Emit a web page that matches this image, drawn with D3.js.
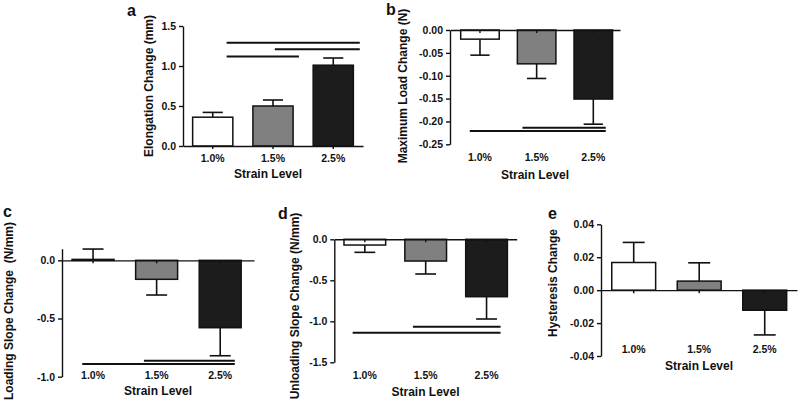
<!DOCTYPE html>
<html><head><meta charset="utf-8">
<script src="https://cdn.jsdelivr.net/npm/d3@7"></script>
<style>
body{margin:0;background:#fff;}
svg{display:block;}
text{font-family:"Liberation Sans",Arial,sans-serif;font-weight:bold;fill:#111;}
</style></head><body>
<svg id="c" width="800" height="404"></svg>
<script>
const categories = ["1.0%", "1.5%", "2.5%"];
const barColors = ["#ffffff", "#808080", "#1c1c1c"];

// panel a: Elongation Change (mm)
const elongMean = [0.36, 0.50, 1.01];
const elongErr  = [0.06, 0.075, 0.09];
const elongTicks = [0, 0.5, 1.0, 1.5];
const elongSig = [[0.23, 2.44, 1.29], [1.03, 2.44, 1.21], [0.23, 1.43, 1.12]];

// panel b: Maximum Load Change (N)
const loadMean = [-0.020, -0.074, -0.151];
const loadErr  = [0.035, 0.032, 0.055];
const loadTicks = [0, -0.05, -0.10, -0.15, -0.20, -0.25];
const loadSig = [[0.75, 2.22, -0.214], [-0.18, 2.22, -0.221]];

// panel c: Loading Slope Change (N/mm)
const lsMean = [0.008, -0.163, -0.579];
const lsErr  = [0.089, 0.135, 0.241];
const lsTicks = [0, -0.5, -1.0];
const lsSig = [[0.80, 2.23, -0.863], [-0.17, 2.23, -0.89]];

// panel d: Unloading Slope Change (N/mm)
const usMean = [-0.07, -0.265, -0.70];
const usErr  = [0.089, 0.158, 0.272];
const usTicks = [0, -0.5, -1.0, -1.5];
const usSig = [[0.79, 2.23, -1.066], [-0.20, 2.23, -1.139]];

// panel e: Hysteresis Change
const hyMean = [0.0168, 0.0055, -0.0122];
const hyErr  = [0.0122, 0.0111, 0.0150];
const hyTicks = [-0.04, -0.02, 0, 0.02, 0.04];
const hySig = [];

const svg = d3.select("#c");

function panel(o){
  const g = svg.append("g");
  const x = d3.scaleBand().domain(categories).range(o.xr)
    .paddingInner(o.pi).paddingOuter(o.po).align(o.al);
  const y = d3.scaleLinear().domain(o.dom).range(o.yr);
  const idx = d3.scaleLinear().domain([0,1]).range([x(categories[0])+x.bandwidth()/2, x(categories[1])+x.bandwidth()/2]);

  // y axis
  const ya = g.append("g").attr("transform",`translate(${o.xr[0]},0)`)
    .call(d3.axisLeft(y).tickValues(o.ticks).tickSize(4).tickSizeOuter(0).tickPadding(3)
      .tickFormat(d => d.toFixed(o.dec)));
  ya.selectAll("path,line").attr("stroke","#111").attr("stroke-width",1.4);
  ya.selectAll("text").attr("font-size","10.5px").style("font-family","Liberation Sans, Arial, sans-serif").style("font-weight","bold").attr("fill","#111");

  const data = categories.map((c,i)=>({c, m:o.mean[i], e:o.err[i], col:barColors[i]}));
  const bw = x.bandwidth();
  // error bars
  data.forEach(d=>{
    const cx = x(d.c)+bw/2;
    const end = d.m + (d.m>=0 ? d.e : -d.e);
    g.append("line").attr("x1",cx).attr("x2",cx).attr("y1",y(d.m)).attr("y2",y(end))
      .attr("stroke","#111").attr("stroke-width",1.6);
    g.append("line").attr("x1",cx-bw/4).attr("x2",cx+bw/4).attr("y1",y(end)).attr("y2",y(end))
      .attr("stroke","#111").attr("stroke-width",1.6);
  });
  // bars
  g.selectAll("rect.bar").data(data).join("rect")
    .attr("x",d=>x(d.c)).attr("width",bw)
    .attr("y",d=>y(Math.max(0,d.m))).attr("height",d=>Math.abs(y(d.m)-y(0)))
    .attr("fill",d=>d.col).attr("stroke","#111").attr("stroke-width",1.5);

  // x axis at zero
  const xa = g.append("g").attr("transform",`translate(0,${y(0)})`)
    .call(d3.axisBottom(x).tickSize(3).tickSizeOuter(0).tickFormat(""));
  xa.selectAll("path,line").attr("stroke","#111").attr("stroke-width",1.4);

  // category labels
  g.selectAll("text.cat").data(categories).join("text").attr("class","cat")
    .attr("x",d=>x(d)+bw/2).attr("y",o.labY).attr("text-anchor","middle")
    .attr("font-size","10.5px").text(d=>d);
  g.append("text").attr("x",(o.xr[0]+o.xr[1])/2+o.tdx).attr("y",o.titY).attr("text-anchor","middle")
    .attr("font-size","12px").text("Strain Level");

  // y title
  g.append("text").attr("transform",`translate(${o.ytx},${o.yty}) rotate(-90)`)
    .attr("text-anchor","middle").attr("dy","0.35em").attr("font-size","12px")
    .attr("xml:space","preserve").style("white-space","pre").text(o.ytitle);

  // panel letter
  g.append("text").attr("x",o.lx).attr("y",o.ly).attr("font-size","16px").text(o.letter);

  // significance lines
  o.sig.forEach(s=>{
    g.append("line").attr("x1",idx(s[0])).attr("x2",idx(s[1])).attr("y1",y(s[2])).attr("y2",y(s[2]))
      .attr("stroke","#111").attr("stroke-width",2);
  });
}

panel({xr:[183,363], pi:0.333, po:0.16, al:0.5, dom:[0,1.5], yr:[146,26], ticks:elongTicks, dec:1,
  mean:elongMean, err:elongErr, sig:elongSig, labY:162, titY:178, tdx:-5,
  ytitle:"Elongation Change (mm)", ytx:149, yty:86, letter:"a", lx:127, ly:16});
panel({xr:[450,620], pi:0.32, po:0.16, al:0.59, dom:[-0.25,0], yr:[144.3,30], ticks:loadTicks, dec:2,
  mean:loadMean, err:loadErr, sig:loadSig, labY:161, titY:179, tdx:0,
  ytitle:"Maximum Load Change (N)", ytx:403, yty:86, letter:"b", lx:386, ly:15});
panel({xr:[62,254], pi:0.34, po:0.18, al:0.44, dom:[-1.0,0.1], yr:[376.7,248.7], ticks:lsTicks, dec:1,
  mean:lsMean, err:lsErr, sig:lsSig, labY:379, titY:395, tdx:0,
  ytitle:"Loading Slope Change  (N/mm)", ytx:9, yty:311, letter:"c", lx:3, ly:217});
panel({xr:[334.3,516.7], pi:0.315, po:0.156, al:0.51, dom:[-1.5,0], yr:[362.3,239.3], ticks:usTicks, dec:1,
  mean:usMean, err:usErr, sig:usSig, labY:379, titY:396, tdx:0,
  ytitle:"Unloading Slope Change (N/mm)", ytx:295, yty:306, letter:"d", lx:278, ly:219});
panel({xr:[601,797], pi:0.33, po:0.161, al:0.51, dom:[-0.04,0.04], yr:[356,224.3], ticks:hyTicks, dec:2,
  mean:hyMean, err:hyErr, sig:hySig, labY:353, titY:370, tdx:0,
  ytitle:"Hysteresis Change", ytx:553, yty:283, letter:"e", lx:548, ly:219});
</script>
</body></html>
